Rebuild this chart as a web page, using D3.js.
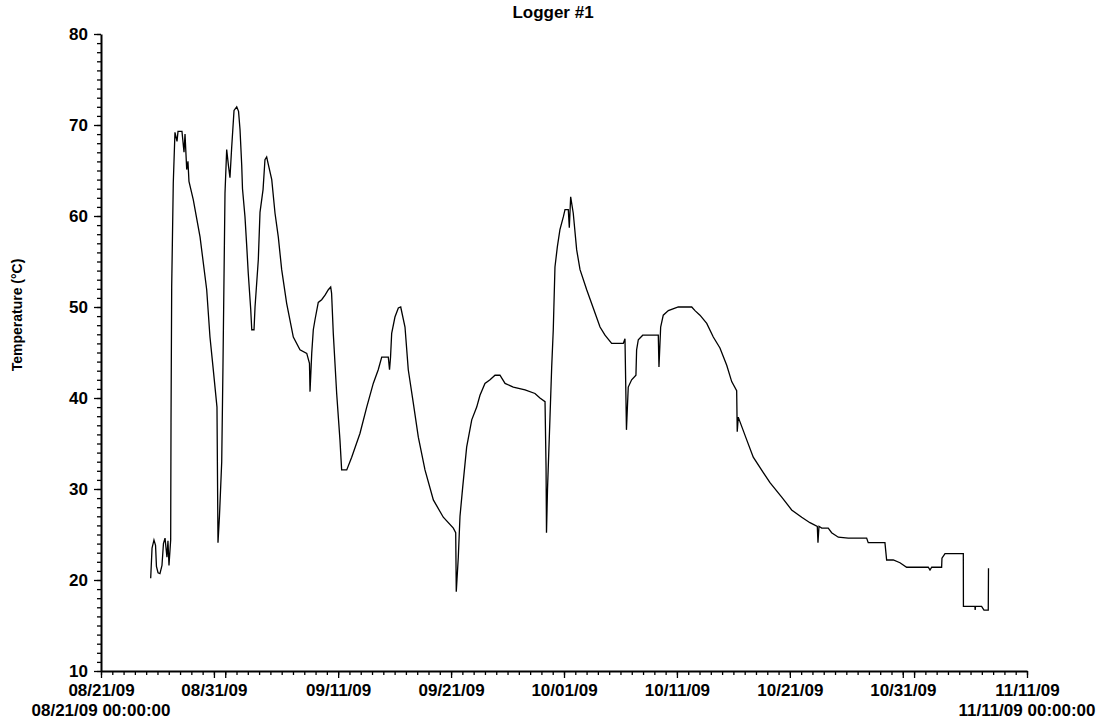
<!DOCTYPE html>
<html>
<head>
<meta charset="utf-8">
<script src="https://cdn.jsdelivr.net/npm/d3@7"></script>
<style>
    body { margin: 0; background: #fff; }
    svg text { font-family: "Liberation Sans", Arial, sans-serif; font-weight: bold; fill: #000; }
</style>
</head>
<body>
<svg id="logger" width="1105" height="727"></svg>
<script>
// logger readings, days elapsed since 08/21/09 00:00:00
const elapsedDays = [
    4.40, 4.52, 4.69, 4.83, 4.91, 5.05, 5.22, 5.40, 5.53, 5.67, 5.84, 5.93, 6.02, 6.17, 6.20, 6.26,
    6.40, 6.55, 6.73, 6.82, 7.17, 7.35, 7.44, 7.59, 7.70, 7.79, 8.17, 8.77, 9.36, 9.65, 9.92, 10.27,
    10.36, 10.49, 10.69, 10.80, 10.98, 11.13, 11.29, 11.42, 11.57, 11.78, 12.02, 12.18, 12.31, 12.46,
    12.53, 12.75, 12.90, 13.04, 13.26, 13.35, 13.55, 13.64, 13.93, 14.08, 14.35, 14.52, 14.67, 14.79,
    15.12, 15.41, 15.70, 16.00, 16.44, 17.03, 17.62, 18.22, 18.46, 18.51, 18.66, 18.80, 18.95, 19.24,
    19.54, 19.84, 20.13, 20.34, 20.42, 20.57, 20.87, 21.16, 21.31, 21.76, 22.20, 22.93, 23.53, 24.11,
    24.55, 24.86, 25.44, 25.55, 25.64, 25.74, 26.03, 26.33, 26.54, 26.92, 27.21, 27.65, 28.10, 28.69,
    29.43, 30.31, 31.20, 31.41, 31.46, 31.64, 31.79, 32.03, 32.38, 32.83, 33.27, 33.56, 34.00, 34.45,
    34.89, 35.33, 35.78, 36.51, 37.55, 38.43, 38.87, 39.32, 39.41, 39.45, 39.54, 39.76, 39.91, 40.05,
    40.20, 40.41, 40.64, 40.94, 41.09, 41.38, 41.47, 41.59, 41.82, 42.12, 42.42, 43.01, 43.59, 44.19,
    44.63, 45.22, 46.25, 46.40, 46.53, 46.69, 46.99, 47.37, 47.43, 47.58, 47.97, 49.35, 49.41, 49.56,
    49.79, 50.24, 51.12, 52.31, 52.60, 53.04, 53.64, 54.22, 54.81, 55.41, 55.85, 56.29, 56.34, 56.43,
    57.18, 57.76, 58.65, 59.24, 60.28, 61.16, 62.05, 62.78, 63.43, 63.49, 63.58, 63.82, 64.40, 64.70,
    65.29, 66.17, 67.80, 67.94, 69.42, 69.57, 70.16, 70.75, 71.34, 73.26, 73.41, 73.56, 74.44, 74.47,
    74.74, 76.36, 76.37, 77.39, 77.41, 77.44, 77.98, 78.19, 78.57, 78.59
];
const tempC = [
    20.2, 23.5, 24.4, 23.8, 21.5, 20.8, 20.7, 21.6, 24.0, 24.6, 22.5, 24.3, 21.6, 24.4, 37.3, 52.2,
    63.6, 69.2, 68.2, 69.3, 69.3, 67.0, 69.0, 65.1, 66.0, 63.8, 61.8, 57.7, 51.9, 46.7, 43.4, 39.0,
    24.1, 27.0, 33.0, 43.4, 62.5, 67.3, 65.5, 64.2, 67.5, 71.6, 72.0, 71.5, 69.5, 65.6,
    63.0, 59.9, 56.8, 53.7, 49.7, 47.5, 47.5, 50.0, 55.2, 60.4, 62.9, 66.2, 66.5, 65.8,
    64.0, 60.3, 57.7, 54.1, 50.4, 46.7, 45.3, 44.9, 43.8, 40.7, 44.9, 47.5, 48.6, 50.5,
    50.8, 51.3, 51.9, 52.2, 51.5, 47.1, 40.5, 35.4, 32.1, 32.1, 33.5, 36.1, 39.0, 41.6,
    43.1, 44.5, 44.5, 43.1, 44.5, 47.1, 48.9, 49.9, 50.0, 47.8, 43.1, 39.5, 35.7, 32.1,
    28.8, 26.9, 25.7, 25.2, 18.7, 22.5, 27.0, 30.2, 34.6, 37.6, 39.0, 40.3, 41.6, 42.0,
    42.5, 42.5, 41.6, 41.2, 40.9, 40.5, 40.0, 39.6, 32.4, 25.2, 30.0, 37.9, 43.4, 47.5,
    54.4, 56.6, 58.5, 59.9, 60.7, 60.7, 58.7, 62.1, 60.3, 56.3, 54.1, 51.9, 49.9, 47.8,
    46.9, 46.0, 46.0, 46.5, 36.5, 41.2, 42.0, 42.5, 45.3, 46.4, 46.9, 46.9, 43.4, 47.8,
    49.1, 49.6, 50.0, 50.0, 49.6, 49.1, 48.2, 46.7, 45.5, 43.6, 41.8, 40.8, 36.3, 37.9,
    35.4, 33.5, 31.8, 30.7, 29.1, 27.7, 26.9, 26.3, 25.9, 24.1, 25.9, 25.7, 25.7, 25.2,
    24.7, 24.6, 24.6, 24.1, 24.1, 22.2, 22.2, 21.9, 21.4, 21.4, 21.1, 21.4, 21.4, 22.4,
    22.9, 22.9, 17.1, 17.1, 16.7, 17.1, 17.1, 16.7, 16.7, 21.3
];

const startDate = new Date(Date.UTC(2009, 7, 21));
const endDate = new Date(Date.UTC(2009, 10, 11));
// long ticks: every labelled date plus the first of each month
const majorTicks = ['2009-08-21', '2009-08-31', '2009-09-01', '2009-09-11', '2009-09-21', '2009-10-01',
    '2009-10-11', '2009-10-21', '2009-10-31', '2009-11-01', '2009-11-11'];
const labelTicks = ['2009-08-21', '2009-08-31', '2009-09-11', '2009-09-21', '2009-10-01',
    '2009-10-11', '2009-10-21', '2009-10-31', '2009-11-11'];
const yTicks = [10, 20, 30, 40, 50, 60, 70, 80];

const svg = d3.select('svg#logger');
const plotLeft = 101, plotRight = 1027, plotTop = 34, plotBottom = 671;
const dayMs = 24 * 3600 * 1000;

const xScale = d3.scaleUtc()
    .domain([startDate, endDate])
    .range([plotLeft, plotRight]);
const yScale = d3.scaleLinear()
    .domain([10, 80])
    .range([plotBottom, plotTop]);

const readings = elapsedDays.map((d, i) => ({
    time: new Date(startDate.getTime() + d * dayMs),
    temp: tempC[i]
}));

const fmtDate = d3.utcFormat('%m/%d/%y');
const fmtFull = d3.utcFormat('%m/%d/%y %H:%M:%S');
const fmtKey = d3.utcFormat('%Y-%m-%d');

// minor ticks first so the axis line sits on top
svg.append('g')
    .attr('transform', `translate(${plotLeft}, 0)`)
    .call(d3.axisLeft(yScale).tickValues(d3.range(10, 81)).tickSize(4).tickFormat(''))
    .call(g => g.select('.domain').remove())
    .call(g => g.selectAll('line').attr('stroke-width', 1.3));

svg.append('g')
    .attr('transform', `translate(0, ${plotBottom})`)
    .call(d3.axisBottom(xScale).ticks(d3.utcDay.every(1)).tickSize(4).tickFormat(''))
    .call(g => g.select('.domain').remove())
    .call(g => g.selectAll('line').attr('stroke-width', 1.3));

const labelSet = new Set(labelTicks);
svg.append('g')
    .attr('transform', `translate(0, ${plotBottom})`)
    .call(d3.axisBottom(xScale)
        .tickValues(majorTicks.map(d => new Date(d + 'T00:00:00Z')))
        .tickSize(7)
        .tickSizeOuter(0)
        .tickPadding(6)
        .tickFormat(d => labelSet.has(fmtKey(d)) ? fmtDate(d) : ''))
    .call(g => g.select('.domain').attr('stroke-width', 2))
    .call(g => g.selectAll('line').attr('stroke-width', 1.3))
    .call(g => g.selectAll('text')
        .style('font-size', '17px')
        .style('font-family', '"Liberation Sans", Arial, sans-serif')
        .style('font-weight', 'bold'));

svg.append('g')
    .attr('transform', `translate(${plotLeft}, 0)`)
    .call(d3.axisLeft(yScale)
        .tickValues(yTicks)
        .tickSize(7)
        .tickSizeOuter(0)
        .tickPadding(6))
    .call(g => g.select('.domain').attr('stroke-width', 2))
    .call(g => g.selectAll('line').attr('stroke-width', 1.3))
    .call(g => g.selectAll('text')
        .style('font-size', '17px')
        .style('font-family', '"Liberation Sans", Arial, sans-serif')
        .style('font-weight', 'bold'));

// start / end timestamps under the axis
svg.selectAll('text.range')
    .data([startDate, endDate])
    .enter()
    .append('text')
    .attr('class', 'range')
    .attr('x', d => xScale(d))
    .attr('y', 716)
    .attr('text-anchor', 'middle')
    .style('font-size', '17px')
    .text(d => fmtFull(d));

// temperature trace
const line = d3.line()
    .x(d => xScale(d.time))
    .y(d => yScale(d.temp));

svg.append('path')
    .datum(readings)
    .attr('d', line)
    .attr('fill', 'none')
    .attr('stroke', '#000')
    .attr('stroke-width', 1.3);

// labels
svg.append('text')
    .attr('x', 553)
    .attr('y', 18)
    .attr('text-anchor', 'middle')
    .style('font-size', '17px')
    .text('Logger #1');

svg.append('text')
    .attr('transform', 'translate(22, 315) rotate(-90)')
    .attr('text-anchor', 'middle')
    .style('font-size', '14px')
    .text('Temperature (°C)');
</script>
</body>
</html>
